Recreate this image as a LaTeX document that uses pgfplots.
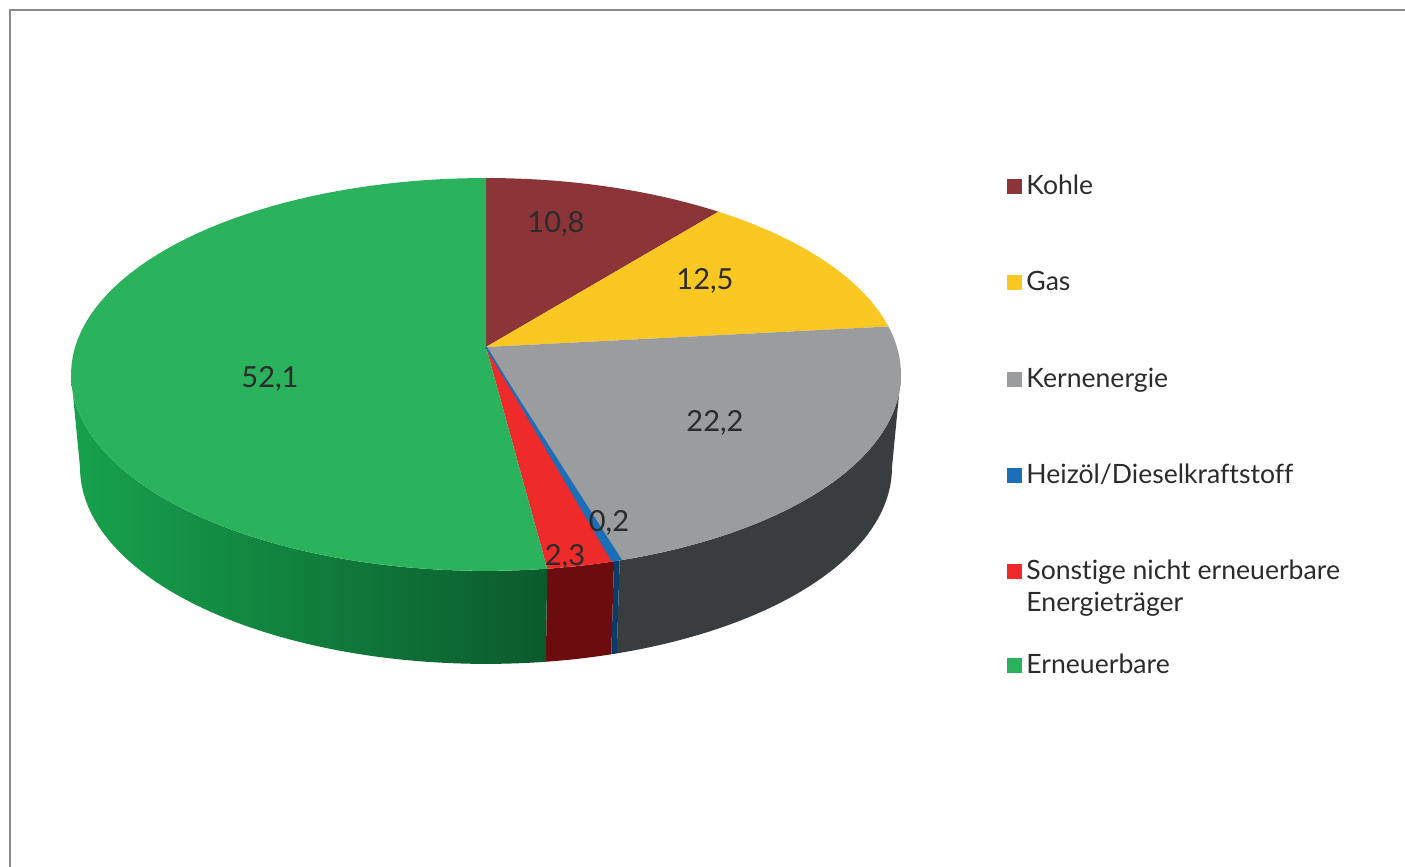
\documentclass[border=0pt]{standalone}
\usepackage{pgfplots}
\pgfplotsset{compat=1.18}
\usepackage{pgfplotstable}
\usepackage{fontspec}
\setmainfont{Lato}[Ligatures=NoCommon]

\definecolor{cKohle}{HTML}{8B3538}
\definecolor{cGas}{HTML}{FBC723}
\definecolor{cKern}{HTML}{9A9C9D}
\definecolor{cHeiz}{HTML}{1C6FB7}
\definecolor{cSonst}{HTML}{EE2A2B}
\definecolor{cErn}{HTML}{2AB25D}
\definecolor{sKern}{HTML}{3A3D40}
\definecolor{sHeiz}{HTML}{0B3C68}
\definecolor{sSonst}{HTML}{6D0C0F}
\definecolor{sErnL}{HTML}{17A24D}
\definecolor{sErnR}{HTML}{0B5A2C}
\definecolor{txt}{HTML}{2B2B2B}
\definecolor{frame}{HTML}{8A8A8A}

\pgfplotstableread{
label value
Kohle 10.8
Gas 12.5
Kernenergie 22.2
Heizoel 0.2
Sonstige 2.3
Erneuerbare 52.1
}\piedata

\tikzset{declare function={
  px(\t)=486+410.9*sin(\t)/(1+0.1398*cos(\t));
  py(\t)=347-192.6*cos(\t)/(1+0.1398*cos(\t));
  bx(\t)=486+402*sin(\t)/(1+0.1398*cos(\t));
  by(\t)=440-192.6*cos(\t)/(1+0.1398*cos(\t));
}}

\newcommand\slice[3]{\fill[#3] (486,347) -- plot[domain=#1:#2, samples=80, variable=\t] ({px(\t)},{py(\t)}) -- cycle;}
\newcommand\sidepath[2]{plot[domain=#1:#2, samples=80, variable=\t] ({px(\t)},{py(\t)}) -- plot[domain=#2:#1, samples=80, variable=\t] ({bx(\t)},{by(\t)}) -- cycle}

\begin{document}
\begin{tikzpicture}
\pgfplotstablegetelem{0}{value}\of\piedata\pgfmathsetmacro\vA{\pgfplotsretval}
\pgfplotstablegetelem{1}{value}\of\piedata\pgfmathsetmacro\vB{\pgfplotsretval}
\pgfplotstablegetelem{2}{value}\of\piedata\pgfmathsetmacro\vC{\pgfplotsretval}
\pgfplotstablegetelem{3}{value}\of\piedata\pgfmathsetmacro\vD{\pgfplotsretval}
\pgfplotstablegetelem{4}{value}\of\piedata\pgfmathsetmacro\vE{\pgfplotsretval}
\pgfplotstablegetelem{5}{value}\of\piedata\pgfmathsetmacro\vF{\pgfplotsretval}
\pgfmathsetmacro\tot{\vA+\vB+\vC+\vD+\vE+\vF}
\pgfmathsetmacro\aA{360*\vA/\tot}
\pgfmathsetmacro\aB{\aA+360*\vB/\tot}
\pgfmathsetmacro\aC{\aB+360*\vC/\tot}
\pgfmathsetmacro\aD{\aC+360*\vD/\tot}
\pgfmathsetmacro\aE{\aD+360*\vE/\tot}
\pgfmathsetmacro\aR{acos(-0.1398)}
\pgfmathsetmacro\aL{360-\aR}
\begin{axis}[
  width=702.5pt, height=433.5pt, scale only axis,
  xmin=0, xmax=1405, ymin=0, ymax=867, y dir=reverse,
  hide axis, clip=false,
]
\coordinate (BL) at (0,867);
\coordinate (TR) at (1405,0);
\draw[frame, line width=1pt] (10,867) -- (10,10) -- (1405,10);
% sides
\fill[sKern] \sidepath{\aR}{\aC};
\fill[sHeiz] \sidepath{\aC}{\aD};
\fill[sSonst] \sidepath{\aD}{\aE};
\shade[left color=sErnL, right color=sErnR] \sidepath{\aE}{\aL};
% top
\slice{0}{\aA}{cKohle}
\slice{\aA}{\aB}{cGas}
\slice{\aB}{\aC}{cKern}
\slice{\aD}{\aE}{cSonst}
\slice{\aE}{360}{cErn}
\fill[cHeiz] (486,347) -- plot[domain=\aC-0.3:\aD+0.3, samples=10, variable=\t] ({px(\t)},{py(\t)}) -- cycle;
\draw[cHeiz, line width=0.9pt] (486,347) -- ({px((\aC+\aD)/2)},{py((\aC+\aD)/2)});
% labels
\begin{scope}[every node/.style={text=txt, font=\fontsize{14.5}{17}\selectfont, inner sep=0pt, anchor=base}]
\node at (556,232) {10,8};
\node at (705,289) {12,5};
\node at (715,431) {22,2};
\node at (609,531) {0,2};
\node at (565,565) {2,3};
\node at (270,387) {52,1};
\end{scope}
% legend
\begin{scope}[every node/.style={text=txt, font=\fontsize{13.3}{16}\selectfont, inner sep=0pt, anchor=base west}]
\fill[cKohle] (1007,179) rectangle (1022,194);
\node at (1026,194) {Kohle};
\fill[cGas] (1007,275) rectangle (1022,290);
\node at (1026,290) {Gas};
\fill[cKern] (1007,372) rectangle (1022,387);
\node at (1026,387) {Kernenergie};
\fill[cHeiz] (1007,468) rectangle (1022,483);
\node at (1026,483) {Heizöl/Dieselkraftstoff};
\fill[cSonst] (1007,564) rectangle (1022,579);
\node at (1026,579) {Sonstige nicht erneuerbare};
\node at (1026,611) {Energieträger};
\fill[cErn] (1007,658) rectangle (1022,673);
\node at (1026,673) {Erneuerbare};
\end{scope}
\end{axis}
\pgfresetboundingbox
\path (BL) rectangle (TR);
\end{tikzpicture}
\end{document}
